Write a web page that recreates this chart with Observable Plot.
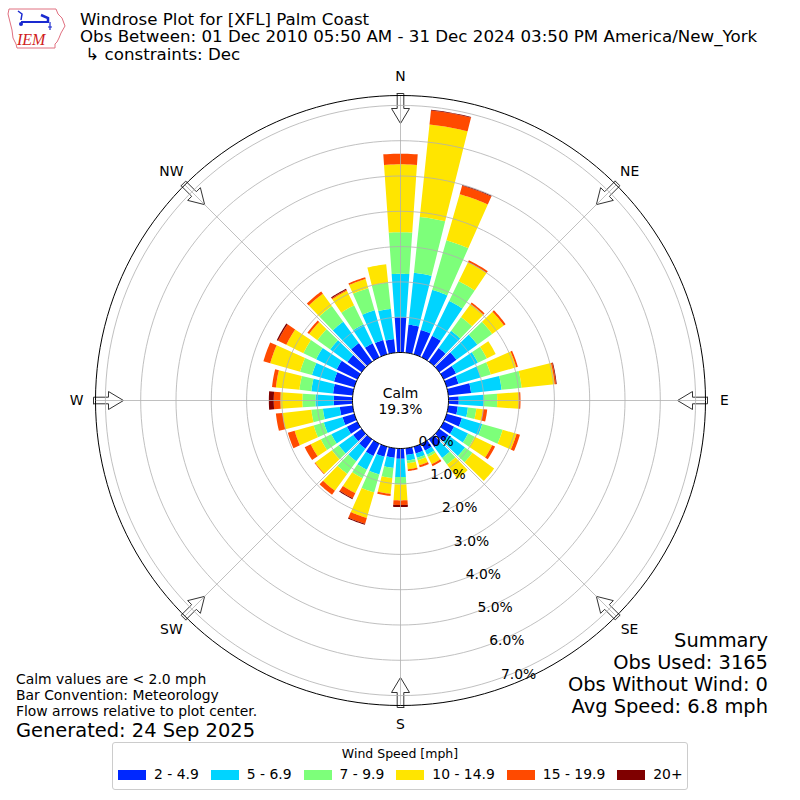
<!DOCTYPE html>
<html>
<head>
<meta charset="utf-8">
<script src="https://cdn.jsdelivr.net/npm/d3@7"></script>
<script src="https://cdn.jsdelivr.net/npm/@observablehq/plot@0.6"></script>
<style>
  body { margin: 0; background: #fff; font-family: "DejaVu Sans", sans-serif; color: #000; }
  #wrap { position: relative; width: 800px; height: 800px; overflow: hidden; }
  #chart { position: absolute; left: 0; top: 0; }
  .t { position: absolute; line-height: 1; white-space: pre; }
  .title { font-size: 16.67px; left: 80px; }
  .note { font-size: 13.9px; left: 16px; }
  .sum { font-size: 19.44px; right: 32px; text-align: right; }
  #legend { position: absolute; left: 112px; top: 742px; width: 574px; height: 46px;
            border: 1px solid #cccccc; border-radius: 3px; background: #fff; }
  #legend .lt { position: absolute; left: 0; width: 100%; top: 5px; text-align: center; font-size: 12.5px; line-height: 1; }
  #legend .row { position: absolute; left: 5px; top: 25px; display: flex; align-items: center; font-size: 13.9px; line-height: 1; }
  #legend .sw { width: 28px; height: 10px; margin-right: 8px; }
  #legend .lb { margin-right: 12px; white-space: pre; }
</style>
</head>
<body>
<div id="wrap">
  <div id="chart"></div>
  <svg style="position:absolute;left:0;top:0" width="72" height="56">
    <path d="M9,9 L56,9 L58,14 L62,18 L65,26 L61,33 L59,38 L57,42 L55,44 L55,48 L17,48 L16,44 L13,38 L12,30 L10,22 L8,14 Z" fill="none" stroke="#e07080" stroke-width="1"/>
    <line x1="21" y1="22" x2="49" y2="22" stroke="#1a2ad0" stroke-width="2"/>
    <path d="M18,11 L22,14 L21,20" fill="none" stroke="#1a2ad0" stroke-width="1.5"/>
    <circle cx="21" cy="24" r="2" fill="#1a2ad0"/>
    <path d="M41,15 L48,18 L48,22" fill="none" stroke="#1a2ad0" stroke-width="2.5"/>
    <path d="M50,22 L50,30 M48,27 L52,27" fill="none" stroke="#1a2ad0" stroke-width="1.2"/>
    <text x="17" y="45" font-family="Liberation Serif" font-style="italic" font-size="16" fill="#d02020">IEM</text>
  </svg>
  <div class="t title" style="top:11.5px">Windrose Plot for [XFL] Palm Coast</div>
  <div class="t title" style="top:29.3px">Obs Between: 01 Dec 2010 05:50 AM - 31 Dec 2024 03:50 PM America/New_York</div>
  <div class="t title" style="top:46.9px"> ↳ constraints: Dec</div>
  <div class="t sum" style="top:630.5px">Summary</div>
  <div class="t sum" style="top:652.5px">Obs Used: 3165</div>
  <div class="t sum" style="top:674.5px">Obs Without Wind: 0</div>
  <div class="t sum" style="top:696.5px">Avg Speed: 6.8 mph</div>
  <div class="t note" style="top:673.2px">Calm values are &lt; 2.0 mph</div>
  <div class="t note" style="top:689.2px">Bar Convention: Meteorology</div>
  <div class="t note" style="top:705.2px">Flow arrows relative to plot center.</div>
  <div class="t note" style="top:720.5px;font-size:19.44px">Generated: 24 Sep 2025</div>
  <div id="legend"><div class="lt">Wind Speed [mph]</div><div class="row" id="legrow"></div></div>
</div>
<script>
// ---- data ----
const directions = [0,10,20,30,40,50,60,70,80,90,100,110,120,130,140,150,160,170,180,190,200,210,220,230,240,250,260,270,280,290,300,310,320,330,340,350];
const speedLabels = ["2 - 4.9", "5 - 6.9", "7 - 9.9", "10 - 14.9", "15 - 19.9", "20+"];
const speedColors = ["#0028ff", "#00d4ff", "#7dff7a", "#ffe500", "#ff4a00", "#7f0000"];
// percent of observations per direction, one array per speed bin
const s2to5   = [1.00,0.80,0.72,0.68,0.48,0.60,0.39,0.35,0.65,0.29,0.27,0.45,0.33,0.32,0.28,0.22,0.20,0.19,0.29,0.27,0.30,0.39,0.33,0.30,0.33,0.35,0.37,0.53,0.56,0.60,0.65,0.50,0.65,0.44,0.42,0.39];
const s5to7   = [1.23,1.48,1.18,1.10,0.60,0.73,0.69,0.65,0.87,0.71,0.29,0.60,0.44,0.58,0.37,0.13,0.13,0.16,0.52,0.29,0.52,0.43,0.44,0.50,0.49,0.55,0.48,0.52,0.62,0.65,0.65,0.60,0.75,0.60,0.88,0.86];
const s7to10  = [1.18,1.59,1.46,0.62,0.48,0.52,0.28,0.30,0.57,0.38,0.24,0.60,0.21,0.26,0.23,0.07,0.07,0.08,0.21,0.29,0.53,0.27,0.44,0.24,0.33,0.30,0.33,0.37,0.34,0.35,0.40,0.45,0.55,0.60,0.65,0.75];
const s10to15 = [1.92,2.63,1.36,0.60,0.46,0.41,0.28,0.75,0.94,0.61,0.19,0.41,0.55,0.76,0.50,0.23,0.15,0.17,0.45,0.45,0.75,0.47,0.59,0.59,0.32,0.56,0.82,0.62,0.67,0.88,0.54,0.29,0.43,0.46,0.27,0.52];
const s15to20 = [0.30,0.40,0.25,0.06,0.05,0.06,0.00,0.05,0.04,0.05,0.12,0.10,0.09,0.00,0.00,0.06,0.06,0.05,0.13,0.06,0.17,0.16,0.14,0.02,0.19,0.20,0.19,0.19,0.11,0.20,0.26,0.06,0.08,0.03,0.05,0.00];
const s20plus = [0.00,0.02,0.02,0.00,0.00,0.00,0.00,0.00,0.02,0.00,0.00,0.00,0.00,0.00,0.00,0.00,0.00,0.00,0.06,0.00,0.03,0.03,0.00,0.00,0.00,0.00,0.00,0.14,0.00,0.00,0.04,0.00,0.00,0.03,0.00,0.00];
const series = [s2to5, s5to7, s7to10, s10to15, s15to20, s20plus];
const calmPercent = "19.3%";
const tickValues = [0, 1, 2, 3, 4, 5, 6, 7];
const tickLabels = ["0.0%", "1.0%", "2.0%", "3.0%", "4.0%", "5.0%", "6.0%", "7.0%"];
const compassAngles = [0, 45, 90, 135, 180, 225, 270, 315];
const compassLabels = ["N", "NE", "E", "SE", "S", "SW", "W", "NW"];

// ---- geometry (layout, in percent units) ----
const PX = 35.3;            // pixels per percent
const R0 = 48 / PX;         // calm circle radius
const ROUT = 305 / PX;      // outer frame radius
const LABEL_R = 324 / PX;
const TICK_ANGLE = 160.5;
const BAR_WIDTH = 8;        // degrees
const rad = d => d * Math.PI / 180;
const pol = (rr, deg) => ({x: rr * Math.sin(rad(deg)), y: rr * Math.cos(rad(deg))});

const wedges = [];
directions.forEach((dir, i) => {
  let cum = 0;
  series.forEach((s, j) => {
    const v = s[i];
    if (!(v > 0)) return;
    const a = R0 + cum, b = R0 + cum + v;
    cum += v;
    const id = dir + "-" + j, n = 10;
    for (let k = 0; k <= n; k++) wedges.push({id, bin: speedLabels[j], ...pol(b, dir - BAR_WIDTH / 2 + BAR_WIDTH * k / n)});
    for (let k = n; k >= 0; k--) wedges.push({id, bin: speedLabels[j], ...pol(a, dir - BAR_WIDTH / 2 + BAR_WIDTH * k / n)});
  });
});

function circle(rr, id) {
  const pts = [];
  for (let k = 0; k <= 360; k += 2) pts.push({id, ...pol(rr, k)});
  return pts;
}
const ringPts = tickValues.filter(v => v > 0).flatMap(v => circle(R0 + v, "r" + v));
const outerPts = circle(ROUT, "outer");
const calmPts = circle(R0, "calm");

// inward flow arrows (shape in px: [radius, offset])
const arrowShape = [[307,-3.3],[292,-3.3],[292,-9],[277,0],[292,9],[292,3.3],[307,3.3],[307,-3.3]];
const arrowPts = compassAngles.flatMap(ang => arrowShape.map(([r, w]) => {
  const p = pol(r / PX, ang);
  return {id: "a" + ang, x: p.x + (w / PX) * Math.cos(rad(ang)), y: p.y - (w / PX) * Math.sin(rad(ang))};
}));

const ticks = tickValues.map((v, i) => ({label: tickLabels[i], ...pol(R0 + v, TICK_ANGLE)}));
const compass = compassAngles.map((a, i) => ({label: compassLabels[i], ang: a, ...pol(LABEL_R, a), ...{ex: pol(ROUT, a).x, ey: pol(ROUT, a).y}}));

const half = 400 / PX;
const chart = Plot.plot({
  width: 800, height: 800, margin: 0,
  x: {domain: [-half, half], axis: null},
  y: {domain: [-half, half], axis: null},
  color: {domain: speedLabels, range: speedColors},
  style: {fontFamily: "DejaVu Sans", background: "transparent", overflow: "visible"},
  marks: [
    Plot.line(wedges, {x: "x", y: "y", z: "id", fill: "bin", stroke: "none", curve: "linear"}),
    Plot.line(arrowPts, {x: "x", y: "y", z: "id", fill: "white", stroke: "#333333", strokeWidth: 1, curve: "linear"}),
    Plot.line(ringPts, {x: "x", y: "y", z: "id", stroke: "#b0b0b0", strokeWidth: 0.8, curve: "linear"}),
    Plot.link(compass, {x1: 0, y1: 0, x2: "ex", y2: "ey", stroke: "#b0b0b0", strokeWidth: 0.8}),
    Plot.line(outerPts, {x: "x", y: "y", stroke: "black", strokeWidth: 1, curve: "linear"}),
    Plot.line(calmPts, {x: "x", y: "y", fill: "white", stroke: "black", strokeWidth: 1, curve: "linear"}),
    Plot.text(["Calm\n" + calmPercent], {x: 0, y: 0, text: d => d, fontSize: 13.9, fill: "black", lineHeight: 1.15, textAnchor: "middle"}),
    Plot.text(ticks, {x: "x", y: "y", text: "label", textAnchor: "start", lineAnchor: "bottom", dx: 2, fontSize: 13.9, fill: "black"}),
    Plot.text(compass, {x: "x", y: "y", text: "label", fontSize: 13.9, fill: "black", textAnchor: "middle", lineAnchor: "middle"})
  ]
});
document.getElementById("chart").appendChild(chart);

// legend built from the bins
const row = document.getElementById("legrow");
speedLabels.forEach((lab, i) => {
  const sw = document.createElement("span"); sw.className = "sw"; sw.style.background = speedColors[i];
  const lb = document.createElement("span"); lb.className = "lb"; lb.textContent = lab;
  row.appendChild(sw); row.appendChild(lb);
});
</script>
</body>
</html>
